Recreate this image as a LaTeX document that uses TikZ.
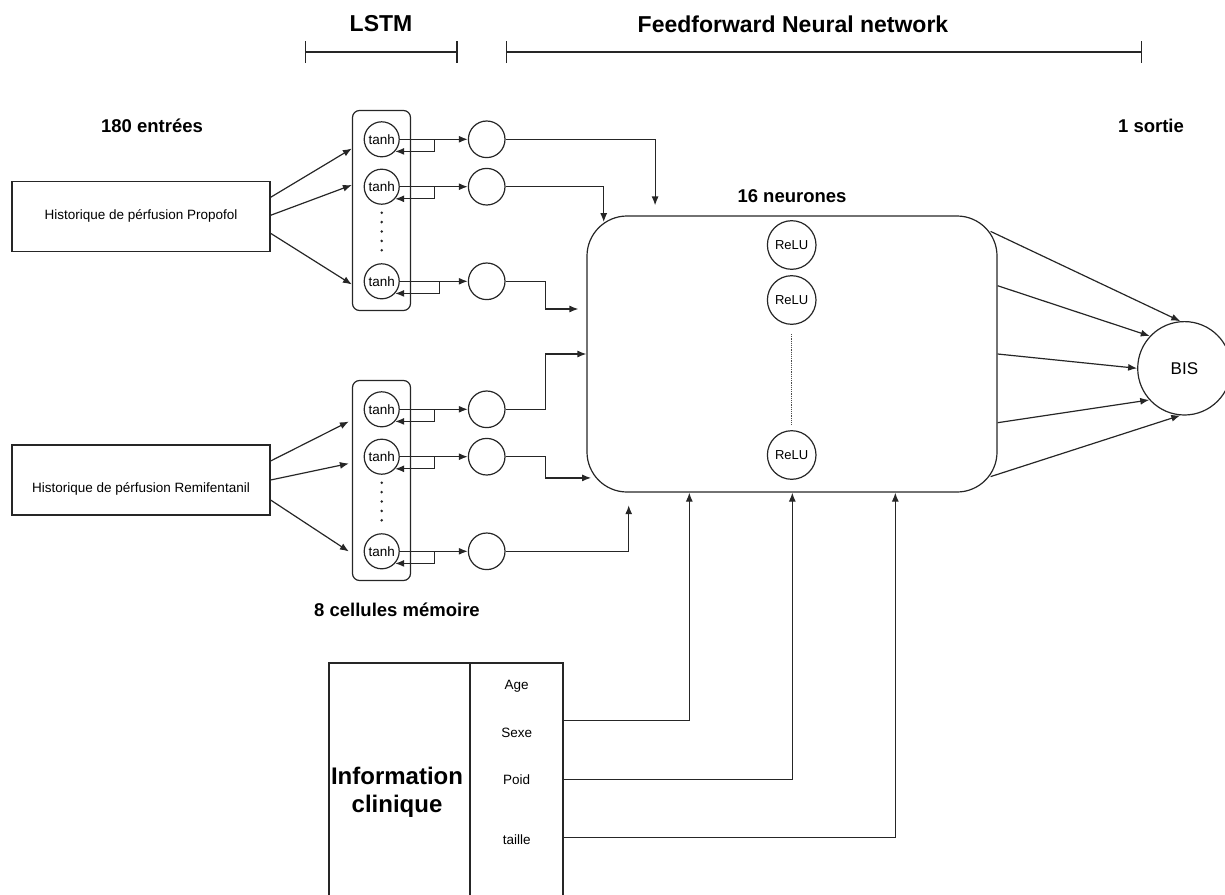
\documentclass[tikz,border=0pt]{standalone}
\usepackage{fontspec}
\setmainfont{Liberation Sans}
\usetikzlibrary{arrows.meta,calc}

\tikzset{
  wire/.style={draw=black!85, line width=1.2pt},
  arr/.style={wire, -{Latex[length=9pt,width=7pt]}},
  inbox/.style={wire, minimum width=258pt, minimum height=70pt, inner sep=0pt, font=\fontsize{13.5}{16}\selectfont},
  cellbox/.style={wire, rounded corners=7pt, minimum width=58pt, minimum height=200pt},
  tanhcell/.style={wire, circle, minimum size=35pt, inner sep=0pt, font=\fontsize{13.5}{16}\selectfont},
  outcell/.style={wire, circle, minimum size=36.6pt, inner sep=0pt},
  relucell/.style={wire, circle, minimum size=48.6pt, inner sep=0pt, font=\fontsize{13}{15}\selectfont},
  fnnbox/.style={wire, rounded corners=40pt, minimum width=410pt, minimum height=276pt},
  tablecell/.style={wire, anchor=north west, inner sep=0pt},
  attr/.style={font=\fontsize{13.5}{16}\selectfont},
  title/.style={font=\bfseries\fontsize{18.5}{22}\selectfont},
  bigtitle/.style={font=\bfseries\fontsize{23}{26}\selectfont},
  span/.style={wire, {Bar[width=22pt]}-{Bar[width=22pt]}}
}

\begin{document}
\begin{tikzpicture}[x=1pt,y=1pt,yscale=-1,xscale=1]
\clip (0,0) rectangle (1225,894);

% Text Node
\node[bigtitle] (lstmtitle) at (381,24) {LSTM};
\node[bigtitle] (fnntitle) at (793,24) {Feedforward Neural network};
%Span marks
\draw[span] (305,52) -- (457.6,52);
\draw[span] (505.5,52) -- (1141.8,52);

% Text Node
\node[title] (intitle) at (152,126) {180 entrées};
\node[title] (outtitle) at (1151,126) {1 sortie};
\node[title] (neurtitle) at (792,196) {16 neurones};
\node[title] (celltitle) at (397,610) {8 cellules mémoire};

%Input boxes
\node[inbox] (propofol) at (141,216.3) {Historique de pérfusion Propofol};
\node[inbox] (remi) at (141,480) {\raisebox{-9pt}[\height][\depth]{Historique de pérfusion Remifentanil}};

%LSTM cells
\node[cellbox] (lstmA) at (381.5,210.5) {};
\node[cellbox] (lstmB) at (381.5,480.5) {};
\node[tanhcell] (tanhA1) at (381.7,139.3) {tanh};
\node[tanhcell] (tanhA2) at (381.7,186.7) {tanh};
\node[tanhcell] (tanhA3) at (381.7,281.3) {tanh};
\node[tanhcell] (tanhB1) at (381.7,409.3) {tanh};
\node[tanhcell] (tanhB2) at (381.7,456.7) {tanh};
\node[tanhcell] (tanhB3) at (381.7,551.3) {tanh};
\foreach \k in {0,...,4} {
  \fill[black!85] (381.7,212.7+9.4*\k) circle (1.4pt);
  \fill[black!85] (381.7,482.7+9.4*\k) circle (1.4pt);
}

%LSTM outputs
\node[outcell] (outA1) at (486.7,139.3) {};
\node[outcell] (outA2) at (486.7,186.7) {};
\node[outcell] (outA3) at (486.7,281.3) {};
\node[outcell] (outB1) at (486.7,409.3) {};
\node[outcell] (outB2) at (486.7,456.7) {};
\node[outcell] (outB3) at (486.7,551.3) {};

%Inputs to cells
\draw[arr] ($(propofol.east)+(0,-19)$) -- ($(lstmA.west)+(0,-62)$);
\draw[arr] ($(propofol.east)+(0,-1)$) -- ($(lstmA.west)+(0,-25.5)$);
\draw[arr] ($(propofol.east)+(0,17)$) -- ($(lstmA.west)+(0,74)$);
\draw[arr] ($(remi.east)+(0,-19)$) -- ($(lstmB.west)+(-3,-59)$);
\draw[arr] (remi.east) -- ($(lstmB.west)+(-3,-17)$);
\draw[arr] ($(remi.east)+(0,20)$) -- ($(lstmB.west)+(-3,71)$);

%Cells to outputs, with recurrence
\foreach \c/\d in {A1/35, A2/35, A3/40, B1/35, B2/35, B3/35} {
  \draw[arr] (tanh\c.east) -- (out\c);
  \draw[arr] ([xshift=\d pt]tanh\c.east) |- (tanh\c.-42);
}

%Big box
\node[fnnbox] (fnn) at (792,354) {};
\node[relucell] (reluA) at (791.7,245) {ReLU};
\node[relucell] (reluB) at (791.7,300) {ReLU};
\node[relucell] (reluC) at (791.7,455) {ReLU};
\draw[wire, densely dotted, draw=black!70] ($(reluB.south)+(0,9)$) -- ($(reluC.north)+(0,-4)$);

%Outputs to big box
\draw[arr] (outA1.east) -| ($(fnn.north west)+(68.7,-10)$);
\draw[arr] (outA2.east) -| ($(fnn.north west)+(17.3,6.7)$);
\draw[arr] (outA3.east) -- ++(40,0) |- ($(fnn.west)+(-8,-45)$);
\draw[arr] (outB1.east) -- ++(40,0) |- (fnn.west);
\draw[arr] (outB2.east) -- ++(40,0) |- ($(fnn.south west)+(4.7,-14.7)$);
\draw[arr] (outB3.east) -| ($(fnn.south west)+(42.3,12.6)$);

%Output neuron
\node[wire, circle, minimum size=93.4pt, inner sep=0pt, font=\fontsize{17}{20}\selectfont] (bis) at (1184.4,368.3) {BIS};
\draw[arr] ($(fnn.north east)+(-7,16)$) -- (bis.95);
\draw[arr] ($(fnn.east)+(0,-68.3)$) -- (bis.137);
\draw[arr] (fnn.east) -- (bis.west);
\draw[arr] ($(fnn.east)+(0,68.7)$) -- (bis.222);
\draw[arr] ($(fnn.south east)+(-7,-16)$) -- (bis.265);

%Clinical table
\node[tablecell, minimum width=141pt, minimum height=250pt] (clinic) at (328.3,662.3) {};
\node[tablecell, minimum width=93pt, minimum height=250pt] (attrs) at (469.3,662.3) {};
\node[font=\bfseries\fontsize{24}{28}\selectfont, align=center] (cliniclabel) at (397,792) {Information\\clinique};
\node[attr] (age) at (516.7,686.7) {Age};
\node[attr] (sexe) at (516.7,733.3) {Sexe};
\node[attr] (poid) at (516.7,780) {Poid};
\node[attr] (taille) at (516.7,839.3) {taille};

%Clinical inputs to big box
\draw[arr] (attrs.east |- 0,720.7) -| (fnn.south -| 689.3,0);
\draw[arr] (attrs.east |- 0,779.3) -| (fnn.south -| 792.3,0);
\draw[arr] (attrs.east |- 0,837.7) -| (fnn.south -| 895.3,0);

\end{tikzpicture}
\end{document}
